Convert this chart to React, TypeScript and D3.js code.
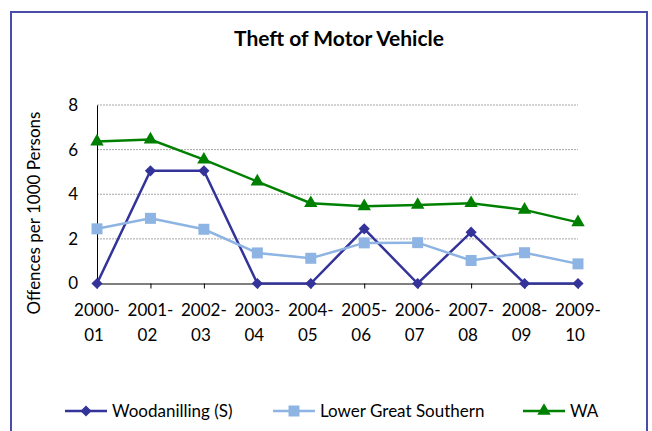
import { useEffect, useRef } from 'react';
import * as d3 from 'd3';

const categories = ['2000-01', '2001-02', '2002-03', '2003-04', '2004-05', '2005-06', '2006-07', '2007-08', '2008-09', '2009-10'];
const woodanilling = [0, 5.05, 5.05, 0, 0, 2.45, 0, 2.3, 0, 0];
const lowerGreatSouthern = [2.45, 2.92, 2.43, 1.37, 1.13, 1.82, 1.83, 1.03, 1.38, 0.88];
const wa = [6.36, 6.45, 5.55, 4.57, 3.6, 3.46, 3.52, 3.6, 3.3, 2.74];
const yTicks = [0, 2, 4, 6, 8];

const seriesNames = ['Woodanilling (S)', 'Lower Great Southern', 'WA'];
const seriesColors = ['#333399', '#8db4e2', '#008000'];
const seriesValues = [woodanilling, lowerGreatSouthern, wa];
const seriesSymbols = [d3.symbolSquare, d3.symbolSquare, d3.symbolTriangle];
const seriesRotate = [45, 0, 0];
const seriesSizes = [62, 121, 78];

const W = 652;
const H = 431;

export default function App() {
  const svgRef = useRef<SVGSVGElement>(null);

  useEffect(() => {
    if (!svgRef.current) return;
    const svg = d3.select(svgRef.current);
    svg.selectAll('*').remove();

    const font = 'Lato, "Open Sans", sans-serif';

    // outer border
    svg.append('rect')
      .attr('x', 11).attr('y', 12).attr('width', 636).attr('height', 430)
      .attr('fill', 'white').attr('stroke', '#4b4ba8').attr('stroke-width', 2);

    svg.append('text')
      .attr('x', 339).attr('y', 46)
      .attr('text-anchor', 'middle')
      .style('font-family', font).style('font-weight', 'bold').style('font-size', '21px')
      .text('Theft of Motor Vehicle');

    const x = d3.scalePoint<string>().domain(categories).range([97, 578]);
    const y = d3.scaleLinear().domain([0, 8]).range([283.5, 105]);

    // gridlines
    svg.append('g')
      .selectAll('line')
      .data(yTicks.filter((t) => t > 0))
      .enter()
      .append('line')
      .attr('x1', 97).attr('x2', 578)
      .attr('y1', (d) => y(d)).attr('y2', (d) => y(d))
      .attr('stroke', '#a6a6a6').attr('stroke-width', 1).attr('stroke-dasharray', '2,1');

    // y axis
    const yAxis = svg.append('g').attr('transform', 'translate(97,0)')
      .call(d3.axisLeft(y).tickValues(yTicks).tickSize(0).tickPadding(19));
    yAxis.select('.domain').attr('stroke', 'black');
    yAxis.selectAll('text').style('font-family', font).style('font-size', '17px').attr('fill', 'black');

    // x axis
    const xAxis = svg.append('g').attr('transform', `translate(0,${y(0)})`)
      .call(d3.axisBottom(x).tickSize(5).tickSizeOuter(0).tickFormat(() => ''));
    xAxis.select('.domain').attr('stroke', 'black');
    xAxis.selectAll('.tick line').attr('stroke', 'black');

    const labels = svg.append('g');
    categories.forEach((c) => {
      const [a, b] = c.split('-');
      const t = labels.append('text')
        .attr('text-anchor', 'middle')
        .style('font-family', font).style('font-size', '17px');
      t.append('tspan').attr('x', x(c)!).attr('y', 316).text(a + '-');
      t.append('tspan').attr('x', (x(c) ?? 0) - 3).attr('y', 341).text(b);
    });

    svg.append('text')
      .attr('transform', 'translate(40,213) rotate(-90)')
      .attr('text-anchor', 'middle')
      .style('font-family', font).style('font-size', '17px')
      .text('Offences per 1000 Persons');

    const line = d3.line<number>()
      .x((_, i) => x(categories[i])!)
      .y((d) => y(d));

    seriesValues.forEach((vals, si) => {
      svg.append('path')
        .datum(vals)
        .attr('d', line)
        .attr('fill', 'none')
        .attr('stroke', seriesColors[si])
        .attr('stroke-width', 2.5);
      svg.append('g')
        .selectAll('path')
        .data(vals)
        .enter()
        .append('path')
        .attr('transform', (d, i) => `translate(${x(categories[i])},${y(d)}) rotate(${seriesRotate[si]})`)
        .attr('d', d3.symbol().type(seriesSymbols[si]).size(seriesSizes[si])())
        .attr('fill', seriesColors[si]);
    });

    // legend
    const legendX = [65, 273, 523];
    const legend = svg.append('g');
    seriesNames.forEach((name, si) => {
      const lx = legendX[si];
      legend.append('line')
        .attr('x1', lx).attr('x2', lx + 42)
        .attr('y1', 411).attr('y2', 411)
        .attr('stroke', seriesColors[si]).attr('stroke-width', 2.5);
      legend.append('path')
        .attr('transform', `translate(${lx + 21},411) rotate(${seriesRotate[si]})`)
        .attr('d', d3.symbol().type(seriesSymbols[si]).size(seriesSizes[si])())
        .attr('fill', seriesColors[si]);
      legend.append('text')
        .attr('x', lx + 47).attr('y', 417)
        .style('font-family', font).style('font-size', '17px')
        .text(name);
    });
  }, []);

  return (
    <svg ref={svgRef} width={W} height={H} style={{ position: 'absolute', left: 0, top: 0 }} />
  );
}
